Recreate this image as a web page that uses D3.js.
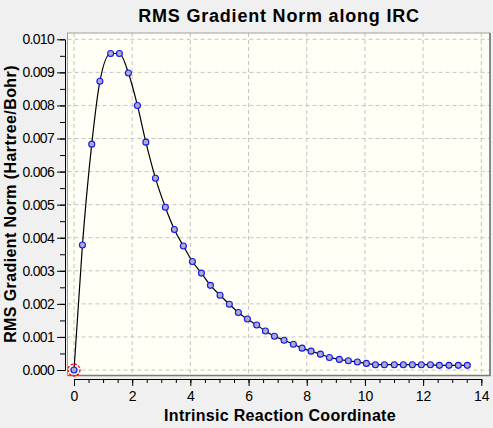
<!DOCTYPE html>
<html lang="en">
<head>
<meta charset="UTF-8">
<title>RMS Gradient Norm along IRC</title>
<script src="https://d3js.org/d3.v7.min.js"></script>
<style>
    body {
        margin: 0;
        background-color: #f0f0f0;
        font-family: Arial, 'Liberation Sans', sans-serif;
    }
    .grid line {
        stroke: #c4c4c4;
        stroke-dasharray: 4,3;
    }
</style>
</head>
<body>
<div id="chart"></div>
<script>
// reaction coordinate of each IRC point
const irc = [0, 0.29, 0.61, 0.89, 1.26, 1.56, 1.87, 2.18, 2.47, 2.80, 3.14, 3.45, 3.76, 4.07,
    4.38, 4.69, 5.02, 5.34, 5.65, 5.96, 6.28, 6.58, 6.89, 7.22, 7.54, 7.84, 8.15, 8.47,
    8.78, 9.12, 9.43, 9.74, 10.05, 10.36, 10.67, 11.01, 11.32, 11.63, 11.94, 12.25,
    12.56, 12.89, 13.21, 13.52];
// RMS gradient norm (Hartree/Bohr)
const rmsGrad = [0.00000, 0.00378, 0.00683, 0.00873, 0.00957, 0.00957, 0.00898, 0.00800,
    0.00689, 0.00580, 0.00492, 0.00425, 0.00375, 0.00328, 0.00293, 0.00256, 0.00226,
    0.00199, 0.00174, 0.00154, 0.00136, 0.00118, 0.00102, 0.00090, 0.00078, 0.00066,
    0.00057, 0.00048, 0.00038, 0.00032, 0.00028, 0.00024, 0.00020, 0.00016, 0.00016,
    0.00016, 0.00016, 0.00016, 0.00016, 0.00016, 0.00014, 0.00014, 0.00014, 0.00014];
const xTicks = [0, 2, 4, 6, 8, 10, 12, 14];
const yTicks = [0, 0.001, 0.002, 0.003, 0.004, 0.005, 0.006, 0.007, 0.008, 0.009, 0.010];

const W = 493, H = 428;
const frame = {left: 67.5, top: 33, right: 490, bottom: 375.5};

const svg = d3.select("#chart").append("svg")
    .attr("width", W)
    .attr("height", H);

const x = d3.scaleLinear().domain([0, 14]).range([74, 481.3]);
const y = d3.scaleLinear().domain([0, 0.010]).range([370, 39.3]);

// plot background
svg.append("rect")
    .attr("x", frame.left).attr("y", frame.top)
    .attr("width", frame.right - frame.left)
    .attr("height", frame.bottom - frame.top)
    .attr("fill", "#fffff5");

svg.append("clipPath").attr("id", "clip")
    .append("rect")
    .attr("x", frame.left).attr("y", frame.top)
    .attr("width", frame.right - frame.left)
    .attr("height", frame.bottom - frame.top);

// grid
const grid = svg.append("g").attr("class", "grid");
grid.selectAll(".gx").data(xTicks).enter().append("line")
    .attr("x1", d => x(d)).attr("x2", d => x(d))
    .attr("y1", frame.top).attr("y2", frame.bottom);
grid.selectAll(".gy").data(yTicks).enter().append("line")
    .attr("x1", frame.left).attr("x2", frame.right)
    .attr("y1", d => y(d)).attr("y2", d => y(d));

// frame border
svg.append("rect")
    .attr("x", frame.left).attr("y", frame.top)
    .attr("width", frame.right - frame.left)
    .attr("height", frame.bottom - frame.top)
    .attr("fill", "none")
    .attr("stroke", "#a0a0a0");
svg.append("path")
    .attr("d", `M${frame.right},${frame.top}V${frame.bottom}H${frame.left}`)
    .attr("fill", "none")
    .attr("stroke", "#7a7a7a")
    .attr("stroke-width", 1.6);

// line + points
const line = d3.line()
    .x((d, i) => x(irc[i]))
    .y(d => y(d))
    .curve(d3.curveMonotoneX);

svg.append("path")
    .datum(rmsGrad)
    .attr("clip-path", "url(#clip)")
    .attr("fill", "none")
    .attr("stroke", "#000")
    .attr("stroke-width", 1.2)
    .attr("d", line);

svg.selectAll(".pt").data(rmsGrad).enter().append("circle")
    .attr("class", "pt")
    .attr("cx", (d, i) => x(irc[i]))
    .attr("cy", d => y(d))
    .attr("r", 3)
    .attr("fill", "#a9adc9")
    .attr("stroke", "#1414f0")
    .attr("stroke-width", 1.1);

// current point marker
svg.append("circle")
    .attr("cx", x(irc[0]))
    .attr("cy", y(rmsGrad[0]))
    .attr("r", 6)
    .attr("fill", "none")
    .attr("stroke", "#ff0000")
    .attr("stroke-width", 1.3)
    .attr("stroke-dasharray", "2.5,1.5");

// x axis
svg.append("g")
    .attr("transform", "translate(0,379)")
    .call(d3.axisBottom(x).tickValues(d3.range(0, 14.01, 0.5)).tickSize(4).tickSizeOuter(0).tickFormat(""));
const xAxis = svg.append("g")
    .attr("transform", "translate(0,379)")
    .call(d3.axisBottom(x).tickValues(xTicks).tickSize(7).tickSizeOuter(0).tickPadding(5));
xAxis.selectAll("text")
    .style("font-family", "Arial, 'Liberation Sans', sans-serif")
    .style("font-size", "14px")
    .attr("fill", "#000");

// y axis
svg.append("g")
    .attr("transform", "translate(65,0)")
    .call(d3.axisLeft(y).tickValues(d3.range(0, 0.01001, 0.0005)).tickSize(5).tickSizeOuter(0).tickFormat(""));
const yAxis = svg.append("g")
    .attr("transform", "translate(65,0)")
    .call(d3.axisLeft(y).tickValues(yTicks).tickSize(8).tickSizeOuter(0).tickPadding(3).tickFormat(d3.format(".3f")));
yAxis.selectAll("text")
    .style("font-family", "Arial, 'Liberation Sans', sans-serif")
    .style("font-size", "14px")
    .style("letter-spacing", "-0.7px")
    .attr("fill", "#000");

svg.selectAll(".domain, .tick line").attr("stroke", "#000");

// titles
svg.append("text")
    .attr("x", 279).attr("y", 22)
    .attr("text-anchor", "middle")
    .style("font-size", "18px")
    .style("font-weight", "bold")
    .style("letter-spacing", "0.8px")
    .text("RMS Gradient Norm along IRC");

svg.append("text")
    .attr("x", 280).attr("y", 421)
    .attr("text-anchor", "middle")
    .style("font-size", "16px")
    .style("font-weight", "bold")
    .style("letter-spacing", "0.3px")
    .text("Intrinsic Reaction Coordinate");

svg.append("text")
    .attr("transform", "translate(16,204) rotate(-90)")
    .attr("text-anchor", "middle")
    .style("font-size", "16px")
    .style("font-weight", "bold")
    .style("letter-spacing", "0.4px")
    .text("RMS Gradient Norm (Hartree/Bohr)");
</script>
</body>
</html>
